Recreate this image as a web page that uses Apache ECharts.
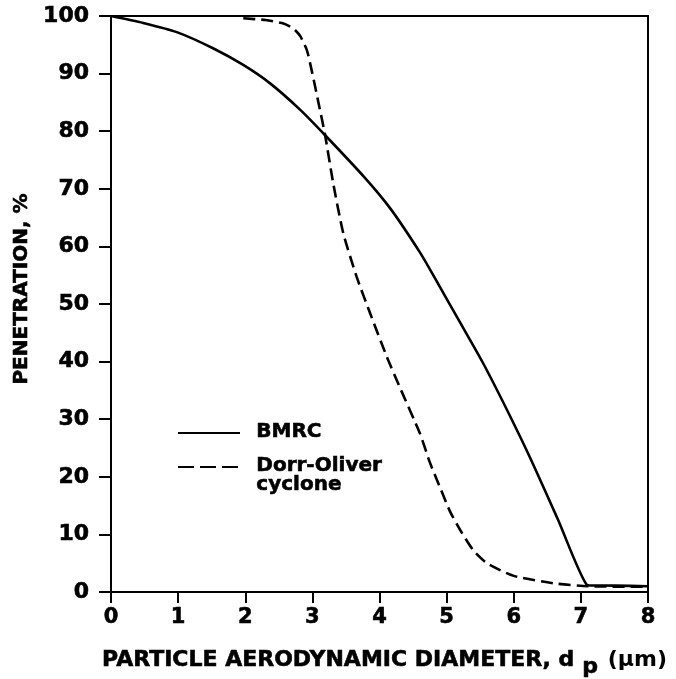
<!DOCTYPE html>
<html>
<head>
<meta charset="utf-8">
<script src="https://cdn.jsdelivr.net/npm/echarts@6/dist/echarts.min.js"></script>
<style>html,body{margin:0;padding:0;background:#fff;}#c{width:676px;height:679px;}</style>
</head>
<body>
<div id="c"></div>
<script>
// BMRC penetration curve: [diameter µm, penetration %]
var bmrc = [[0,100],[0.48,98.8],[0.98,97.2],[1.52,94.4],[1.97,91.5],[2.37,88.3],[2.82,83.7],[3.19,79.3],[3.76,72.2],[4.16,66.6],[4.6,59],[4.83,54.4],[5.2,46.8],[5.54,39.8],[5.9,31.6],[6.24,23.4],[6.65,12.8],[7.09,1.2],[7.12,1.15],[7.5,1.1],[8,1.0]];
// Dorr-Oliver cyclone penetration curve
var dorr = [[1.97,99.6],[2.3,99.3],[2.57,98.7],[2.72,97.8],[2.82,96.5],[2.92,94],[3.0,90],[3.09,85],[3.19,79.3],[3.31,71],[3.46,62.3],[3.66,54.7],[3.86,48.4],[4.11,40.8],[4.3,35.6],[4.6,27.6],[4.75,22.5],[4.9,18.2],[5.05,14],[5.2,10.8],[5.4,7.2],[5.6,5],[6.0,2.8],[6.6,1.5],[7.1,1.0],[8,0.9]];
var seriesNames = ['BMRC', 'Dorr-Oliver\ncyclone'];
var xTitle = 'PARTICLE AERODYNAMIC DIAMETER, d';
var xSub = 'p';
var xUnit = ' (μm)';
var yTitle = 'PENETRATION, %';

var FONT = 'DejaVu Sans';
var heavy = {textBorderColor: '#000', textBorderWidth: 0.6};
var chart = echarts.init(document.getElementById('c'));
chart.setOption({
  backgroundColor: '#fff',
  animation: false,
  grid: {left: 111, right: 28, top: 16, bottom: 87, show: true, borderColor: '#000', borderWidth: 2, outerBoundsMode: 'none', containLabel: false},
  xAxis: {
    type: 'value', min: 0, max: 8, interval: 1,
    axisLine: {show: true, lineStyle: {color: '#000', width: 2}},
    axisTick: {show: true, inside: false, length: 11, lineStyle: {color: '#000', width: 2}},
    splitLine: {show: false},
    axisLabel: Object.assign({color: '#000', fontFamily: FONT, fontWeight: 'bold', fontSize: 21, margin: 15}, heavy),
    name: '{t|' + xTitle + '}{s|' + xSub + '}{u|' + xUnit + '}',
    nameLocation: 'middle', nameGap: 50,
    nameTextStyle: {
      rich: {
        t: Object.assign({color: '#000', fontFamily: FONT, fontWeight: 'bold', fontSize: 22}, heavy),
        s: Object.assign({color: '#000', fontFamily: FONT, fontWeight: 'bold', fontSize: 22, padding: [14, 2, 0, 8]}, heavy),
        u: {color: '#000', fontFamily: FONT, fontWeight: 'bold', fontSize: 22}
      },
      padding: [0, 0, 0, 10]
    }
  },
  yAxis: {
    type: 'value', min: 0, max: 100, interval: 10,
    axisLine: {show: true, lineStyle: {color: '#000', width: 2}},
    axisTick: {show: true, inside: false, length: 12, lineStyle: {color: '#000', width: 2}},
    splitLine: {show: false},
    axisLabel: Object.assign({color: '#000', fontFamily: FONT, fontWeight: 'bold', fontSize: 22, margin: 22}, heavy),
    name: yTitle, nameLocation: 'middle', nameGap: 77, nameRotate: 90,
    nameTextStyle: Object.assign({color: '#000', fontFamily: FONT, fontWeight: 'bold', fontSize: 20, padding: [0, 0, 0, 30]}, heavy)
  },
  series: [
    {name: seriesNames[0], type: 'line', data: bmrc, smooth: 0.25, symbol: 'none',
     lineStyle: {color: '#000', width: 2.6, type: 'solid'}},
    {name: seriesNames[1], type: 'line', data: dorr, smooth: 0.2, symbol: 'none',
     lineStyle: {color: '#000', width: 2.6, type: [12, 6]}}
  ],
  graphic: [
    {type: 'line', shape: {x1: 178, y1: 433, x2: 240, y2: 433}, style: {stroke: '#000', lineWidth: 2.2}},
    {type: 'text', left: 256, top: 421, style: {text: seriesNames[0], fill: '#000', font: 'bold 20px "DejaVu Sans"', stroke: '#000', lineWidth: 0.6}},
    {type: 'line', shape: {x1: 178, y1: 467, x2: 240, y2: 467}, style: {stroke: '#000', lineWidth: 2.2, lineDash: [16, 6]}},
    {type: 'text', left: 256, top: 455, style: {text: seriesNames[1], fill: '#000', font: 'bold 20px "DejaVu Sans"', lineHeight: 19, stroke: '#000', lineWidth: 0.6}}
  ]
});
</script>
</body>
</html>
